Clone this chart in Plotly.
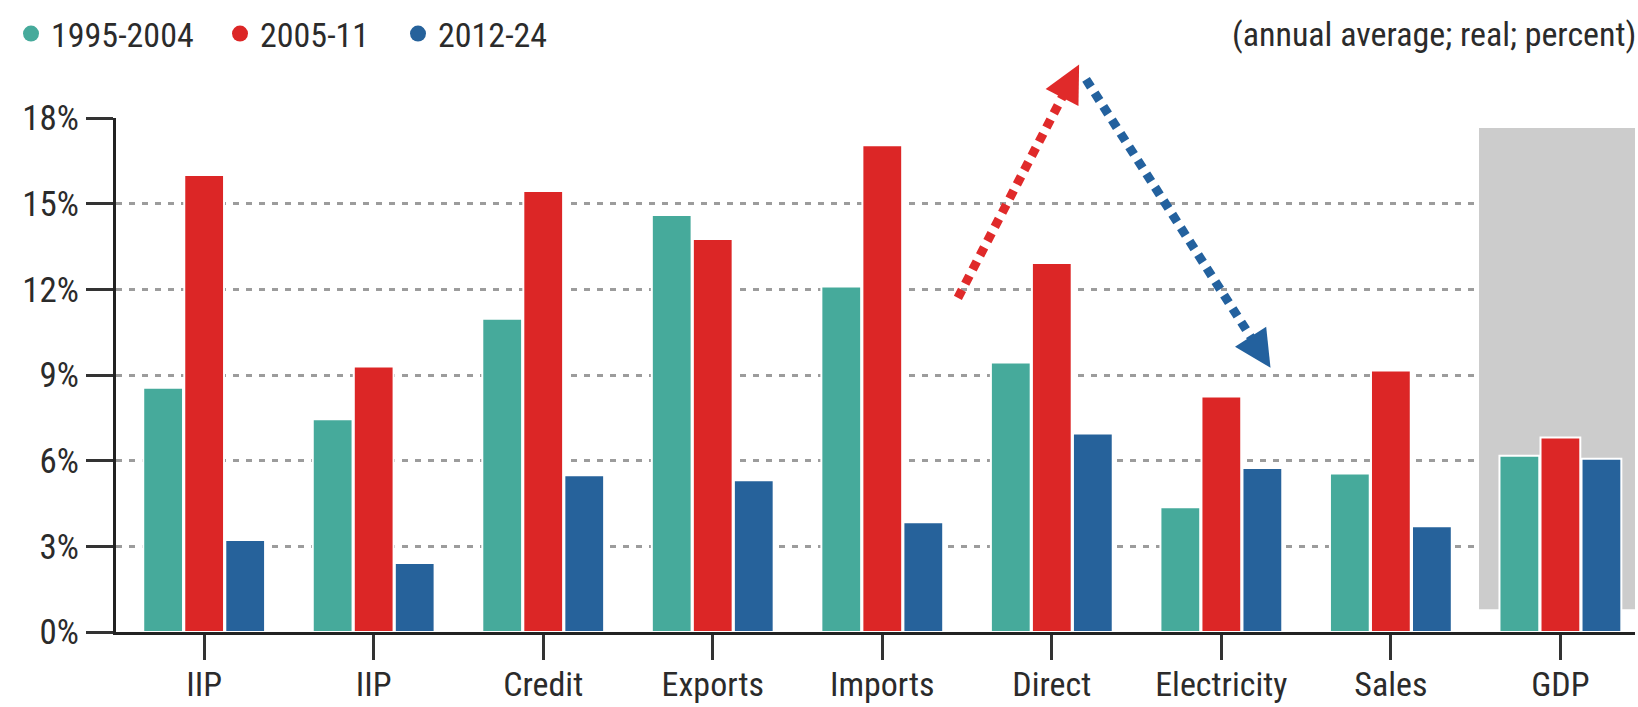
import math
import plotly.graph_objects as go

# ---------------- data ----------------
categories = ["IIP", "IIP", "Credit", "Exports", "Imports", "Direct", "Electricity", "Sales", "GDP"]
series_names = ["1995-2004", "2005-11", "2012-24"]
vals_1995_2004 = [8.55, 7.45, 10.97, 14.60, 12.10, 9.44, 4.37, 5.55, 6.17]
vals_2005_11 = [16.00, 9.30, 15.44, 13.76, 17.05, 12.92, 8.25, 9.16, 6.81]
vals_2012_24 = [3.22, 2.42, 5.49, 5.31, 3.84, 6.95, 5.74, 3.70, 6.07]
y_ticks = [0, 3, 6, 9, 12, 15, 18]
y_ticklabels = ["0%", "3%", "6%", "9%", "12%", "15%", "18%"]
unit_note = "(annual average; real; percent)"

# ---------------- styles ----------------
COLORS = ["#46aa9b", "#dc2626", "#26629b"]
FONT = "Liberation Sans Narrow, Roboto Condensed, Arial Narrow, sans-serif"
TEXT = "#2b2b2b"
W, H = 1638, 707
ML, MR, MT, MB = 116, 3, 118, 75
X_RANGE = [-0.52, 8.44]
Y_RANGE = [0, 18]
pw = W - ML - MR
ph = H - MT - MB
HEADER_Y = (H - MB - 34) / ph          # paper y of header row (34 px from top)
LEGEND_X_PX = [11, 220, 398]           # legend block left edges (px)

xs = list(range(len(categories)))

fig = go.Figure()
for name, vals, col in zip(series_names, [vals_1995_2004, vals_2005_11, vals_2012_24], COLORS):
    fig.add_trace(go.Bar(x=xs, y=vals, name=name, showlegend=False,
                         marker=dict(color=col, line=dict(color="white", width=2))))

# legend entries with round dots, each in its own legend block
legend_ids = ["legend", "legend2", "legend3"]
for name, col, lid in zip(series_names, COLORS, legend_ids):
    fig.add_trace(go.Scatter(x=[None], y=[None], mode="markers", name=name, legend=lid,
                             marker=dict(symbol="circle", size=18, color=col)))

# shaded GDP background
fig.add_shape(type="rect", xref="x", yref="y", x0=7.52, x1=9.0, y0=0.8, y1=17.65,
              fillcolor="#cccccc", line=dict(width=0), layer="between")


def to_paper(x, y):
    return ((x - X_RANGE[0]) / (X_RANGE[1] - X_RANGE[0]),
            (y - Y_RANGE[0]) / (Y_RANGE[1] - Y_RANGE[0]))


# dotted arrows (endpoints in data units, converted to paper so they are not clipped)
arrows = [
    ((4.446, 11.70), (5.161, 19.87), "#e02a2a"),
    ((5.202, 19.35), (6.290, 9.25), "#23619e"),
]
for (x0, y0), (x1, y1), col in arrows:
    p0 = to_paper(x0, y0)
    p1 = to_paper(x1, y1)
    dxp = (p1[0] - p0[0]) * pw
    dyp = (p1[1] - p0[1]) * ph
    L = math.hypot(dxp, dyp)
    ux, uy = dxp / L, dyp / L
    cut = 16
    pe = (p1[0] - ux * cut / pw, p1[1] - uy * cut / ph)
    fig.add_shape(type="line", xref="paper", yref="paper",
                  x0=p0[0], y0=p0[1], x1=pe[0], y1=pe[1],
                  line=dict(color=col, width=9, dash="9px,7px"))
    fig.add_annotation(xref="paper", yref="paper", x=p1[0], y=p1[1], text="",
                       showarrow=True, arrowhead=2, arrowsize=1.85, arrowwidth=4,
                       arrowcolor=col, ax=-ux * 16, ay=uy * 16)

fig.add_annotation(xref="paper", yref="paper", x=(1638 - ML) / pw, y=HEADER_Y,
                   xanchor="right", yanchor="middle", showarrow=False,
                   text=unit_note, font=dict(family=FONT, size=34, color=TEXT))

legend_common = dict(orientation="h", xanchor="left", yanchor="middle", y=HEADER_Y,
                     font=dict(family=FONT, size=34, color=TEXT),
                     bgcolor="rgba(0,0,0,0)", itemsizing="trace", borderwidth=0)

fig.update_layout(
    width=W, height=H,
    margin=dict(l=ML, r=MR, t=MT, b=MB, pad=0, autoexpand=False),
    paper_bgcolor="white", plot_bgcolor="white",
    barmode="group", bargap=0.274, bargroupgap=0.03,
    font=dict(family=FONT, size=34, color=TEXT),
    showlegend=True,
    legend=dict(x=(LEGEND_X_PX[0] - ML) / pw, **legend_common),
    legend2=dict(x=(LEGEND_X_PX[1] - ML) / pw, **legend_common),
    legend3=dict(x=(LEGEND_X_PX[2] - ML) / pw, **legend_common),
    xaxis=dict(range=X_RANGE, tickmode="array", tickvals=xs, ticktext=categories,
               showgrid=False, zeroline=False, showline=True, linecolor="#222",
               linewidth=3, ticks="outside", ticklen=25, tickwidth=3, tickcolor="#333",
               ticklabelstandoff=-5,
               tickfont=dict(family=FONT, size=34, color=TEXT)),
    yaxis=dict(range=Y_RANGE, tickmode="array", tickvals=y_ticks, ticktext=y_ticklabels,
               showgrid=True, gridcolor="#9c9c9c", gridwidth=2.5, griddash="6px,7px",
               zeroline=False, showline=True, linecolor="#222", linewidth=3,
               ticks="outside", ticklen=27, tickwidth=3, tickcolor="#333",
               ticklabelstandoff=0,
               tickfont=dict(family=FONT, size=35, color=TEXT)),
)

fig.write_html("out.html", config={"displayModeBar": False},
               post_script="document.body.style.margin='0';document.body.style.overflow='hidden';")
